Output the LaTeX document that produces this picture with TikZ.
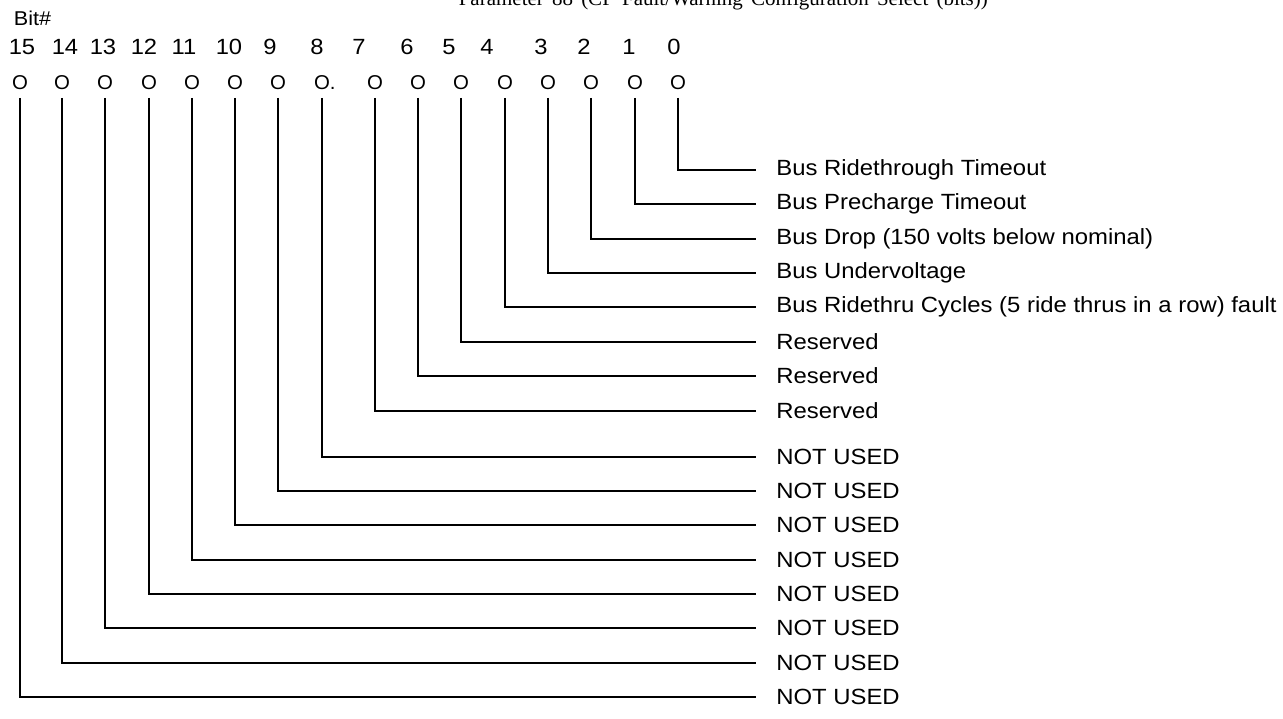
\documentclass[tikz,border=0pt]{standalone}
\usepackage{fontspec}
\setmainfont{Liberation Sans}
\newfontfamily\titlefont{Liberation Serif}
\tikzset{
  bitnum/.style={inner sep=0pt, xscale=1.08, font=\fontsize{22}{24}\selectfont},
  bitmark/.style={inner sep=0pt, text depth=0pt, xscale=1.02, font=\fontsize{20}{22}\selectfont},
  bitlabel/.style={anchor=west, inner ysep=0pt, inner xsep=18pt, xscale=1.085, font=\fontsize{22}{24}\selectfont},
}
\begin{document}
\begin{tikzpicture}[x=1pt, y=-1pt, line width=1.6pt]
  % 1. 画布与裁剪
  \useasboundingbox (0,0) rectangle (1283,719);
  \clip (0,0) rectangle (1283,719);

  % 2. 标题与表头
  \node[anchor=base west, inner sep=0pt, font=\titlefont\fontsize{21}{24}\selectfont] (title) at (458,6)
    {\makebox[529pt][s]{Parameter 88 (CP Fault/Warning Configuration Select (bits))}};
  \node[anchor=west, inner sep=0pt, xscale=1.08, font=\fontsize{20}{24}\selectfont] (bithead) at (13,18) {Bit\#};

  % 3. 各位: 编号, 标记, 说明与连线
  \foreach \b/\ox/\nx/\ly/\txt in {
      0/678/674/170/Bus Ridethrough Timeout,
      1/635/629/204/Bus Precharge Timeout,
      2/591/584/239/Bus Drop (150 volts below nominal),
      3/548/541/273/Bus Undervoltage,
      4/505/487/307/Bus Ridethru Cycles (5 ride thrus in a row) fault,
      5/461/449/342/Reserved,
      6/418/407/376/Reserved,
      7/375/359/411/Reserved,
      8/322/317/457/NOT USED,
      9/278/270/491/NOT USED,
      10/235/229/525/NOT USED,
      11/192/184/560/NOT USED,
      12/149/144/594/NOT USED,
      13/105/103/628/NOT USED,
      14/62/65/663/NOT USED,
      15/20/22/697/NOT USED}
  {
    \node[bitnum] (n\b) at (\nx,47) {\b};
    \ifnum\b=8
      \node[bitmark] (o\b) at (\ox,83) {O\rlap{.}};
    \else
      \node[bitmark] (o\b) at (\ox,83) {O};
    \fi
    \node[bitlabel] (lbl\b) at (756,\ly) {\txt};
    \draw[shorten <=7pt] (o\b.south) |- (lbl\b.west);
  }
\end{tikzpicture}
\end{document}
